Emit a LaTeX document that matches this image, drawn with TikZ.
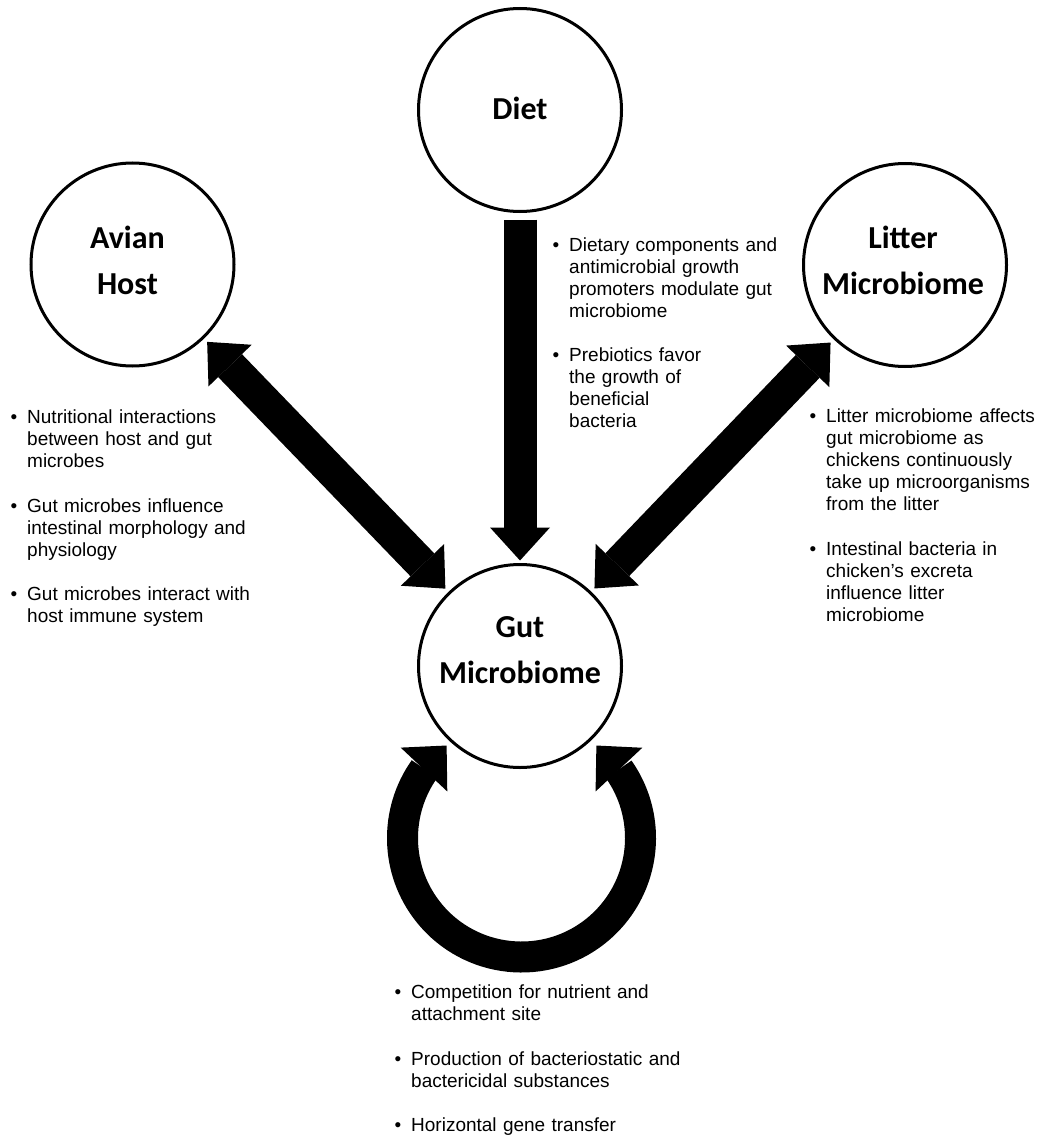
\documentclass[tikz,border=0pt]{standalone}
\usepackage{fontspec}
\setmainfont{Liberation Sans}
\newfontfamily\lblfont{Carlito}
\usetikzlibrary{arrows.meta,bending}
\newcommand{\bulitem}{\llap{•\hspace{10pt}}}
\begin{document}
\begin{tikzpicture}[x=1pt,y=1pt,
  circ/.style={draw, line width=3pt, circle, minimum size=203pt, inner sep=0pt},
  lbl/.style={font=\lblfont\bfseries\fontsize{32}{46}\selectfont, text width=240pt, align=center, anchor=base, inner sep=0pt},
  txt/.style={font=\fontsize{19}{22}\selectfont, text width=320pt, align=left, anchor=base west, inner sep=0pt},
  bigarrow/.style={line width=33pt, -{Triangle[length=33pt,width=60pt,line width=0pt]}},
  dblarrow/.style={line width=33pt, {Triangle[length=33pt,width=60pt,line width=0pt]}-{Triangle[length=33pt,width=60pt,line width=0pt]}},
  ringarrow/.style={line width=31pt, {Triangle[length=33pt,width=64pt,line width=0pt,flex]}-{Triangle[length=33pt,width=64pt,line width=0pt,flex]}}
]
\useasboundingbox (0,0) rectangle (1039,-1137);
% circles
\node[circ] (diet) at (520,-110) {};
\node[circ] (avian) at (132.5,-264.5) {};
\node[circ] (litter) at (905,-265) {};
\node[circ] (gut) at (520,-666) {};
% labels
\node[lbl] (dietlbl) at (520,-120) {Diet};
\node[lbl] (avianlbl) at (127.5,-248) {Avian\\Host};
\node[lbl] (litterlbl) at (903,-248) {Litter\\Microbiome};
\node[lbl] (gutlbl) at (520,-637) {Gut\\Microbiome};
% arrows
\draw[bigarrow, shorten <=6.5pt, shorten >=2.5pt] (diet) -- (gut);
\draw[dblarrow, shorten <=4.5pt, shorten >=4.5pt] (avian) -- (gut);
\draw[dblarrow, shorten <=4.5pt, shorten >=4.5pt] (litter) -- (gut);
\coordinate (ringc) at (521.5,-838);
\draw[ringarrow] ([shift={(129:119pt)}]ringc) arc[start angle=129, end angle=411, radius=119pt];
% texts: avian host
\node[txt] (host1) at (27,-423) {\bulitem Nutritional interactions\\between host and gut\\microbes};
\node[txt] (host2) at (27,-512) {\bulitem Gut microbes influence\\intestinal morphology and\\physiology};
\node[txt] (host3) at (27,-600) {\bulitem Gut microbes interact with\\host immune system};
% texts: diet
\node[txt] (diet1) at (569,-251) {\bulitem Dietary components and\\antimicrobial growth\\promoters modulate gut\\microbiome};
\node[txt] (diet2) at (569,-361) {\bulitem Prebiotics favor\\the growth of\\beneficial\\bacteria};
% texts: litter
\node[txt] (litter1) at (826,-422) {\bulitem Litter microbiome affects\\gut microbiome as\\chickens continuously\\take up microorganisms\\from the litter};
\node[txt] (litter2) at (826,-555) {\bulitem Intestinal bacteria in\\chicken’s excreta\\influence litter\\microbiome};
% texts: gut
\node[txt] (gut1) at (411,-998) {\bulitem Competition for nutrient and\\attachment site};
\node[txt] (gut2) at (411,-1065) {\bulitem Production of bacteriostatic and\\bactericidal substances};
\node[txt] (gut3) at (411,-1131) {\bulitem Horizontal gene transfer};
\end{tikzpicture}
\end{document}
